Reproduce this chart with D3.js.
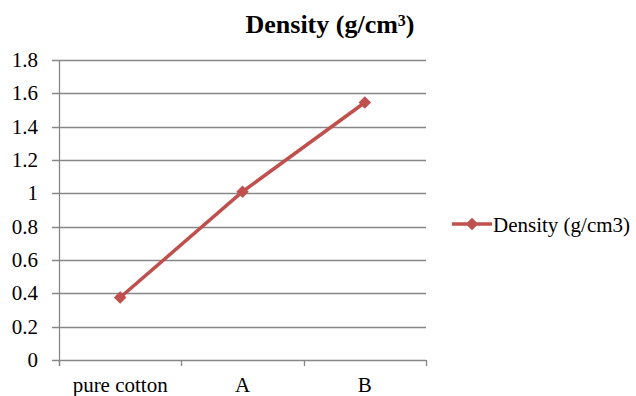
<!DOCTYPE html>
<html>
<head>
<meta charset="utf-8">
<script src="https://cdn.jsdelivr.net/npm/d3@7"></script>
<style>
    body { margin: 0; background: #fff; }
    svg { display: block; font-family: "Liberation Serif", "Times New Roman", serif; }
</style>
</head>
<body>
<svg id="chart" width="636" height="396"></svg>
<script>
"use strict";

// data
const categories = ['pure cotton', 'A', 'B'];
const density = [0.375, 1.01, 1.545];
const yTicks = [0, 0.2, 0.4, 0.6, 0.8, 1, 1.2, 1.4, 1.6, 1.8];
const seriesName = 'Density (g/cm3)';

function drawChart() {
    const svg = d3.select('#chart');
    const left = 59, right = 426, top = 60, bottom = 360;
    const lineColor = '#c0504d';
    const gridColor = '#878787';
    const fontSize = 21;

    let x = d3.scaleBand()
        .domain(categories)
        .range([left, right]);
    let y = d3.scaleLinear()
        .domain([0, 1.8])
        .range([bottom, top]);

    // gridlines
    svg.append('g')
        .selectAll('line')
        .data(yTicks)
        .join('line')
        .attr('x1', left - 7)
        .attr('x2', right)
        .attr('y1', d => Math.round(y(d)) + 0.5)
        .attr('y2', d => Math.round(y(d)) + 0.5)
        .attr('stroke', gridColor)
        .attr('stroke-width', 1.3);

    // y axis line
    svg.append('line')
        .attr('x1', left + 0.5).attr('x2', left + 0.5)
        .attr('y1', top).attr('y2', bottom + 6)
        .attr('stroke', gridColor)
        .attr('stroke-width', 1.3);

    // x category ticks
    let xTickPos = categories.map(c => x(c)).concat([right]);
    svg.append('g')
        .selectAll('line')
        .data(xTickPos)
        .join('line')
        .attr('x1', d => Math.round(d) + 0.5)
        .attr('x2', d => Math.round(d) + 0.5)
        .attr('y1', bottom)
        .attr('y2', bottom + 6)
        .attr('stroke', gridColor)
        .attr('stroke-width', 1.3);

    // y labels
    svg.append('g')
        .selectAll('text')
        .data(yTicks)
        .join('text')
        .attr('x', 38)
        .attr('y', d => y(d) + 7)
        .attr('text-anchor', 'end')
        .attr('font-size', fontSize)
        .attr('fill', '#000')
        .text(d => d);

    // x labels
    svg.append('g')
        .selectAll('text')
        .data(categories)
        .join('text')
        .attr('x', d => x(d) + x.bandwidth() / 2)
        .attr('y', 392)
        .attr('text-anchor', 'middle')
        .attr('font-size', fontSize)
        .attr('fill', '#000')
        .text(d => d);

    // series line
    let line = d3.line()
        .x((d, i) => x(categories[i]) + x.bandwidth() / 2)
        .y(d => y(d));
    svg.append('path')
        .datum(density)
        .attr('d', line)
        .attr('fill', 'none')
        .attr('stroke', lineColor)
        .attr('stroke-width', 3.5);

    let diamond = d3.symbol().type(d3.symbolDiamond2).size(100);
    svg.append('g')
        .selectAll('path')
        .data(density)
        .join('path')
        .attr('transform', (d, i) => `translate(${x(categories[i]) + x.bandwidth() / 2},${y(d)})`)
        .attr('d', diamond)
        .attr('fill', lineColor);

    // title
    let title = svg.append('text')
        .attr('x', 330)
        .attr('y', 33)
        .attr('text-anchor', 'middle')
        .attr('font-size', 26)
        .attr('font-weight', 'bold')
        .attr('fill', '#000');
    title.append('tspan').text('Density (g/cm');
    title.append('tspan').attr('dy', -7).attr('font-size', 16).text('3');
    title.append('tspan').attr('dy', 7).text(')');

    // legend
    let legend = svg.append('g').attr('transform', 'translate(452,224)');
    legend.append('line')
        .attr('x1', 0).attr('x2', 40)
        .attr('stroke', lineColor)
        .attr('stroke-width', 3.5);
    legend.append('path')
        .attr('transform', 'translate(20,0)')
        .attr('d', diamond)
        .attr('fill', lineColor);
    legend.append('text')
        .attr('x', 41)
        .attr('y', 8)
        .attr('font-size', fontSize)
        .attr('fill', '#000')
        .text(seriesName);
}

drawChart();
</script>
</body>
</html>
